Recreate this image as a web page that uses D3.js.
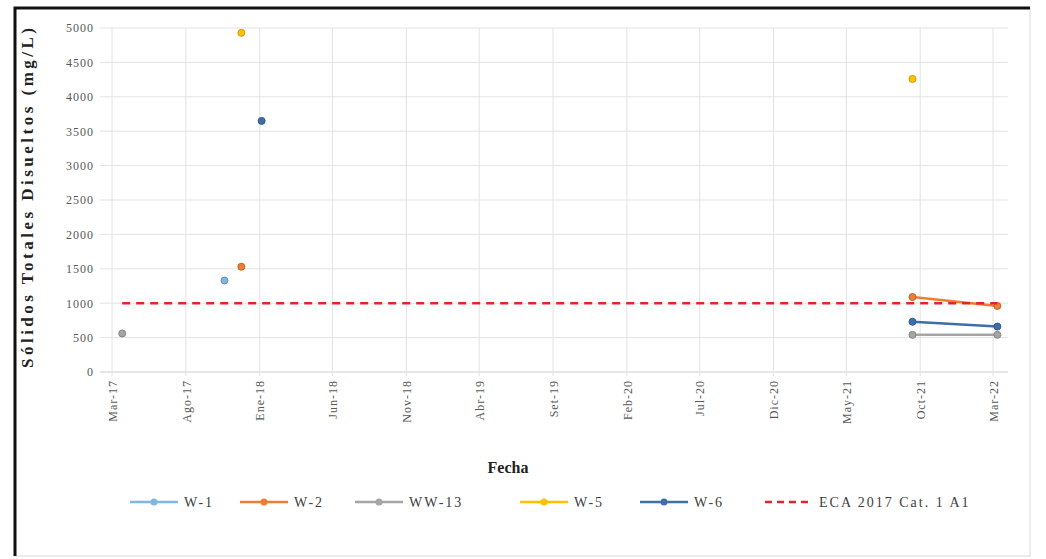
<!DOCTYPE html>
<html>
<head>
<meta charset="utf-8">
<script src="https://cdn.jsdelivr.net/npm/d3@7"></script>
<style>
  body { margin: 0; background: #fff; }
  svg { font-family: "Liberation Serif", "DejaVu Serif", serif; }
</style>
</head>
<body>
<div id="chart"></div>
<script>
// tamaño
var svg_w = 1046;
var svg_h = 559;

// datos, null = sin muestreo (corta la linea)
var tick_dates = ["2017-03-01", "2017-08-01", "2018-01-01", "2018-06-01", "2018-11-01", "2019-04-01",
  "2019-09-01", "2020-02-01", "2020-07-01", "2020-12-01", "2021-05-01", "2021-10-01", "2022-03-01"];
var tick_labels = ["Mar-17", "Ago-17", "Ene-18", "Jun-18", "Nov-18", "Abr-19",
  "Set-19", "Feb-20", "Jul-20", "Dic-20", "May-21", "Oct-21", "Mar-22"];
var y_ticks = [0, 500, 1000, 1500, 2000, 2500, 3000, 3500, 4000, 4500, 5000];

var w1_dates = ["2017-10-20"];
var w1_values = [1330];
var w2_dates = ["2017-11-24", "2019-06-01", "2021-09-15", "2022-03-10"];
var w2_values = [1530, null, 1090, 960];
var ww13_dates = ["2017-03-22", "2019-06-01", "2021-09-15", "2022-03-10"];
var ww13_values = [560, null, 540, 540];
var w5_dates = ["2017-11-24", "2019-06-01", "2021-09-15"];
var w5_values = [4930, null, 4260];
var w6_dates = ["2018-01-05", "2019-06-01", "2021-09-15", "2022-03-10"];
var w6_values = [3650, null, 730, 660];
var eca_dates = ["2017-03-22", "2022-03-10"];
var eca_values = [1000, 1000];

var series_names = ["W-1", "W-2", "WW-13", "W-5", "W-6", "ECA 2017 Cat. 1 A1"];
var series_colors = ["#7FB7E0", "#ED7D31", "#A5A5A5", "#FFC000", "#3E6FA8", "#E0262B"];

var parse = d3.timeParse("%Y-%m-%d");
function zip(dates, values) {
  return dates.map(function(d, i) { return { date: parse(d), value: values[i] }; });
}
var series = [
  zip(w1_dates, w1_values),
  zip(w2_dates, w2_values),
  zip(ww13_dates, ww13_values),
  zip(w5_dates, w5_values),
  zip(w6_dates, w6_values),
  zip(eca_dates, eca_values)
];

var svg = d3.select("#chart").append("svg")
  .attr("width", svg_w)
  .attr("height", svg_h);

// marco
svg.append("rect").attr("x", 15).attr("y", 8).attr("width", 1015).attr("height", 548)
  .attr("fill", "#fff").attr("stroke", "#d9d9d9");
svg.append("path").attr("d", "M15,556V8H1030").attr("fill", "none").attr("stroke", "#111").attr("stroke-width", 3);

// escalas
var x = d3.scaleTime()
  .domain([parse("2017-02-04"), parse("2022-04-01")])
  .range([100, 1008]);
var y = d3.scaleLinear()
  .domain([0, 5000])
  .range([372, 28]);

// grilla
svg.append("g").selectAll("line")
  .data(y_ticks)
  .enter().append("line")
  .attr("x1", 100).attr("x2", 1008)
  .attr("y1", function(d) { return y(d); })
  .attr("y2", function(d) { return y(d); })
  .attr("stroke", function(d) { return d == 0 ? "#cfcfcf" : "#e3e3e3"; });

svg.append("g").selectAll("line")
  .data(tick_dates)
  .enter().append("line")
  .attr("x1", function(d) { return x(parse(d)); })
  .attr("x2", function(d) { return x(parse(d)); })
  .attr("y1", y(5000)).attr("y2", y(0) + 4)
  .attr("stroke", "#e3e3e3");

// ejes
var y_axis = d3.axisLeft(y).tickValues(y_ticks).tickFormat(d3.format("d")).tickSize(0).tickPadding(6);
var gy = svg.append("g").attr("transform", "translate(100,0)").call(y_axis)
  .attr("font-family", null);
gy.select(".domain").remove();
gy.selectAll("text").attr("fill", "#595959").style("font-size", "12px").style("letter-spacing", "1px");

var x_axis = d3.axisBottom(x)
  .tickValues(tick_dates.map(parse))
  .tickFormat(function(d, i) { return tick_labels[i]; })
  .tickSize(0);
var gx = svg.append("g").attr("transform", "translate(0,372)").call(x_axis)
  .attr("font-family", null);
gx.select(".domain").remove();
gx.selectAll("text")
  .attr("fill", "#595959")
  .style("font-size", "12px")
  .style("letter-spacing", "1px")
  .attr("text-anchor", "end")
  .attr("transform", "rotate(-90)")
  .attr("x", -8)
  .attr("y", 0)
  .attr("dy", "0.35em");

// titulos
svg.append("text")
  .attr("transform", "translate(33,198) rotate(-90)")
  .attr("text-anchor", "middle")
  .attr("font-weight", "bold")
  .attr("font-size", "17px")
  .attr("fill", "#222")
  .attr("textLength", 340)
  .attr("lengthAdjust", "spacing")
  .text("Sólidos Totales Disueltos (mg/L)");

svg.append("text")
  .attr("x", 508).attr("y", 473)
  .attr("text-anchor", "middle")
  .attr("font-weight", "bold")
  .attr("font-size", "16px")
  .attr("fill", "#222")
  .text("Fecha");

// lineas y puntos
var line = d3.line()
  .defined(function(d) { return d.value != null; })
  .x(function(d) { return x(d.date); })
  .y(function(d) { return y(d.value); });

for (var q = 0; q < series.length; q++) {
  var g = svg.append("g");
  g.append("path")
    .datum(series[q])
    .attr("d", line)
    .attr("fill", "none")
    .attr("stroke", series_colors[q])
    .attr("stroke-width", 2.5)
    .attr("stroke-dasharray", q == 5 ? "8,6" : null);
  if (q < 5) {
    g.selectAll("circle")
      .data(series[q].filter(function(d) { return d.value != null; }))
      .enter().append("circle")
      .attr("cx", function(d) { return x(d.date); })
      .attr("cy", function(d) { return y(d.value); })
      .attr("r", 3.5)
      .attr("fill", series_colors[q])
      .attr("stroke", d3.color(series_colors[q]).darker(0.6));
  }
}

// leyenda
var legend_x = [130, 240, 355, 520, 640, 765];
var lg = svg.append("g").selectAll("g")
  .data(series_names)
  .enter().append("g")
  .attr("transform", function(d, i) { return "translate(" + legend_x[i] + ",502)"; });
lg.append("line")
  .attr("x1", 0).attr("x2", 48)
  .attr("stroke", function(d, i) { return series_colors[i]; })
  .attr("stroke-width", 2.5)
  .attr("stroke-dasharray", function(d, i) { return i == 5 ? "7,5" : null; });
lg.filter(function(d, i) { return i < 5; }).append("circle")
  .attr("cx", 24).attr("r", 3.5)
  .attr("fill", function(d, i) { return series_colors[i]; });
lg.append("text")
  .attr("x", 54).attr("dy", "0.35em")
  .attr("font-size", "14px")
  .attr("letter-spacing", "2px")
  .attr("fill", "#404040")
  .text(function(d) { return d; });
</script>
</body>
</html>
